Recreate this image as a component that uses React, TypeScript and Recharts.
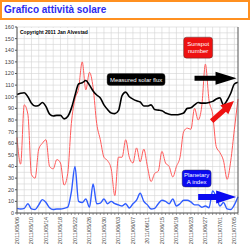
import { LineChart, Line, XAxis, YAxis, CartesianGrid, ReferenceDot } from 'recharts'

const firstDay = { year: 2011, month: 5, day: 6 }

const solarFlux = [
  102, 103, 103.5, 100, 94.5, 92, 92.5, 95, 91.5, 85,
  83.5, 84, 84, 81, 83, 90, 101, 111, 112, 114,
  110, 105, 101.5, 99, 93, 89, 86, 85.5, 88, 101,
  104, 100, 98, 96.5, 95.5, 92, 92, 93, 89, 88.5,
  88, 86, 85, 84.5, 84.5, 85, 86, 90, 90.5, 93,
  95, 94.5, 94.5, 95, 96, 98, 99, 93, 97, 103,
  111, 112.5,
]

const sunspotNumber = [
  65, 42, 93, 85, 33, 30, 55, 60, 63, 40,
  38, 46, 43, 24, 34, 77, 98, 107, 130, 106,
  121, 108, 77, 63, 48, 45, 38, 15, 48, 48,
  63, 48, 43, 56, 44, 55, 40, 27, 34, 36,
  53, 43, 40, 31, 40, 48, 70, 73, 72, 90,
  80, 92, 128, 97, 85, 57, 52, 45, 29, 45,
  72, 98,
]

const aIndex = [
  4, 3.5, 4, 8, 3.5, 3, 7, 11.5, 9, 4.5,
  3, 3.5, 3.5, 4, 5, 18, 40, 10, 9, 12,
  5, 25, 8, 8.5, 12, 8, 10, 8, 7, 6,
  8, 4.3, 8, 11, 17, 10, 7, 3.5, 4, 8,
  11, 10, 8, 12, 6, 8, 11, 11, 9.5, 7,
  7, 5, 6, 4.5, 19, 14, 6, 9, 3.5, 3,
  7, 14,
]

const yTicks = [0, 10, 20, 30, 40, 50, 60, 70, 80, 90, 100, 110, 120, 130, 140, 150, 160]
const labelEvery = 4

const pad = (n: number) => String(n).padStart(2, '0')
const days = solarFlux.map((_, i) => {
  const d = new Date(Date.UTC(firstDay.year, firstDay.month - 1, firstDay.day + i))
  return `${d.getUTCFullYear()}/${pad(d.getUTCMonth() + 1)}/${pad(d.getUTCDate())}`
})

const data = days.map((day, i) => ({
  day,
  flux: solarFlux[i],
  ssn: sunspotNumber[i],
  ap: aIndex[i],
}))

const font = '"Liberation Sans", Arial, sans-serif'

function DateTick({ x, y, payload, index }: any) {
  return (
    <g>
      <line x1={x} y1={y} x2={x} y2={y + 2} stroke="#555" strokeWidth={0.6} />
      {index % labelEvery === 0 && (
        <text
          transform={`translate(${x + 2},${y + 4}) rotate(-90)`}
          textAnchor="end"
          fontSize={5.5}
          fill="#444"
          fontFamily={font}
        >
          {payload.value}
        </text>
      )}
    </g>
  )
}

function Note({ cx, cy, w, h, fill, lines }: any) {
  return (
    <g>
      <rect x={cx} y={cy} width={w} height={h} rx={3} fill={fill} stroke="#333" strokeWidth={0.4} />
      {lines.map((t: string, k: number) => (
        <text
          key={k}
          x={cx + w / 2}
          y={cy + h / 2 + 2 + (k - (lines.length - 1) / 2) * 7}
          textAnchor="middle"
          fill="#fff"
          fontSize={6}
          fontFamily={font}
        >
          {t}
        </text>
      ))}
    </g>
  )
}

function Arrow({ cx, cy, len, head, half, shaft, angle, fill }: any) {
  const b = len - head
  const pts = `0,${-shaft} ${b},${-shaft} ${b},${-half} ${len},0 ${b},${half} ${b},${shaft} 0,${shaft}`
  return <polygon points={pts} fill={fill} transform={`translate(${cx},${cy}) rotate(${angle})`} />
}

export default function App() {
  return (
    <div style={{ position: 'absolute', left: 0, top: 0, width: 250, height: 245, background: '#fff' }}>
      <div
        style={{
          position: 'absolute',
          left: 0,
          top: 0,
          width: 250,
          height: 20,
          boxSizing: 'border-box',
          border: '2px solid #ff9020',
          color: '#2b2bf0',
          fontFamily: font,
          fontWeight: 'bold',
          fontSize: 10,
          lineHeight: '16px',
          paddingLeft: 2,
        }}
      >
        Grafico attività solare
      </div>
      <LineChart
        width={250}
        height={245}
        data={data}
        margin={{ top: 27, right: 0, bottom: 0, left: 0 }}
        style={{ position: 'absolute', left: 0, top: 0 }}
      >
        <CartesianGrid
          yAxisId="left"
          stroke="#d4d4d4"
          strokeWidth={0.6}
          verticalCoordinatesGenerator={({ offset }: any) =>
            days.filter((_, i) => i % 2 === 0).map((_, k) => offset.left + (offset.width * k * 2) / (days.length - 1))
          }
          horizontalCoordinatesGenerator={({ offset }: any) =>
            Array.from({ length: 33 }, (_, k) => offset.top + offset.height * (1 - k / 32))
          }
        />
        <XAxis
          dataKey="day"
          interval={0}
          height={32}
          tickSize={0}
          tickMargin={0}
          tick={<DateTick />}
          stroke="#555"
        />
        <YAxis
          yAxisId="left"
          domain={[0, 160]}
          ticks={yTicks}
          width={17}
          tickSize={2}
          tickMargin={1}
          stroke="#555"
          tick={{ fontSize: 5.5, fill: '#444', fontFamily: font }}
        />
        <YAxis
          yAxisId="right"
          orientation="right"
          domain={[0, 160]}
          ticks={yTicks}
          width={12}
          tickSize={2}
          tickMargin={0}
          stroke="#555"
          tick={{ fontSize: 5.5, fill: '#444', fontFamily: font, textAnchor: 'start' }}
        />
        <Line yAxisId="left" type="monotone" dataKey="ssn" stroke="#ff5a5a" strokeWidth={1} dot={false} isAnimationActive={false} />
        <Line yAxisId="left" type="monotone" dataKey="flux" stroke="#000" strokeWidth={1.6} dot={false} isAnimationActive={false} />
        <Line yAxisId="left" type="monotone" dataKey="ap" stroke="#2f5cff" strokeWidth={1.4} dot={false} isAnimationActive={false} />
        <ReferenceDot
          yAxisId="left"
          x={days[0]}
          y={160}
          shape={(p: any) => (
            <g>
              <rect x={p.cx + 1} y={p.cy + 1} width={68} height={7} fill="#fff" />
              <text x={p.cx + 3} y={p.cy + 6.5} fontSize={5} fontWeight="bold" fill="#000" fontFamily={font}>
                Copyright 2011 Jan Alvestad
              </text>
            </g>
          )}
        />
        <ReferenceDot
          yAxisId="left"
          x={days[46]}
          y={150}
          shape={(p: any) => <Note cx={p.cx} cy={p.cy - 1.5} w={29} h={21} fill="#ee1111" lines={['Sunspot', 'number']} />}
        />
        <ReferenceDot
          yAxisId="left"
          x={days[25]}
          y={120}
          shape={(p: any) => <Note cx={p.cx - 0.5} cy={p.cy} w={58} h={12} fill="#000" lines={['Measured solar flux']} />}
        />
        <ReferenceDot
          yAxisId="left"
          x={days[46]}
          y={37}
          shape={(p: any) => <Note cx={p.cx - 1.5} cy={p.cy} w={29} h={17} fill="#0a0af0" lines={['Planetary', 'A index']} />}
        />
        <ReferenceDot
          yAxisId="left"
          x={days[49]}
          y={116}
          shape={(p: any) => <Arrow cx={p.cx} cy={p.cy} len={42} head={21} half={6.5} shaft={2.5} angle={0} fill="#000" />}
        />
        <ReferenceDot
          yAxisId="left"
          x={days[54]}
          y={79}
          shape={(p: any) => <Arrow cx={p.cx - 1} cy={p.cy} len={30} head={13} half={6} shaft={2.5} angle={-42} fill="#ee1111" />}
        />
        <ReferenceDot
          yAxisId="left"
          x={days[50]}
          y={13.8}
          shape={(p: any) => <Arrow cx={p.cx} cy={p.cy} len={38} head={20} half={6.5} shaft={3} angle={0} fill="#0a0af0" />}
        />
      </LineChart>
    </div>
  )
}
